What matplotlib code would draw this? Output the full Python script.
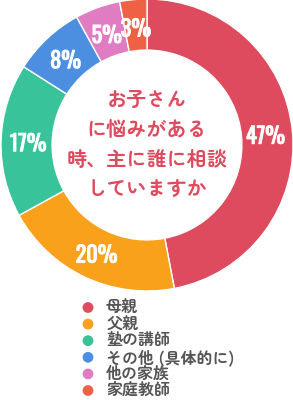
import matplotlib

matplotlib.use("Agg")
import matplotlib.pyplot as plt
import matplotlib.patheffects as pe
import numpy as np

plt.rcParams["font.family"] = ["Zen Maru Gothic", "Noto Sans CJK JP", "DejaVu Sans"]

LABELS = ["母親", "父親", "塾の講師", "その他 (具体的に)", "他の家族", "家庭教師"]
SHARES = [47, 20, 17, 8, 5, 3]
COLORS = ["#DE4B5E", "#F9A11B", "#38C39B", "#4C8FE1", "#E07CC1", "#EE6144"]
CENTER_TEXT = "お子さん\nに悩みがある\n時、主に誰に相談\nしていますか"

W, H = 293, 400
fig = plt.figure(figsize=(W / 100, H / 100), dpi=100)

# donut
cx, cy, r = 147, 145, 146
ax = fig.add_axes([(cx - r) / W, (H - cy - r) / H, 2 * r / W, 2 * r / H])
wedges, _ = ax.pie(
    SHARES,
    colors=COLORS,
    startangle=90,
    counterclock=False,
    radius=1.0,
    wedgeprops=dict(width=0.35, edgecolor="white", linewidth=1),
)
ax.set_xlim(-1, 1)
ax.set_ylim(-1, 1)
ax.set_aspect("equal")
ax.axis("off")

for w, s in zip(wedges, SHARES):
    ang = np.deg2rad((w.theta1 + w.theta2) / 2)
    rr = 0.815
    ax.text(
        rr * np.cos(ang),
        rr * np.sin(ang) - 0.02,
        f"{s}%",
        ha="center",
        va="center",
        color="white",
        fontsize=16,
        fontweight="bold",
        family=["Oswald", "Saira Condensed", "DejaVu Sans"],
        path_effects=[pe.withStroke(linewidth=0.7, foreground="white")],
    )

ax.text(
    0,
    0.0,
    CENTER_TEXT,
    ha="center",
    va="center",
    color="#DE4B5E",
    fontsize=14.5,
    fontweight="bold",
    linespacing=1.72,
)

# legend drawn on its own axes in pixel units
leg = fig.add_axes([0, 0, 1, 1])
leg.set_xlim(0, W)
leg.set_ylim(H, 0)
leg.axis("off")
rows = 307.5 + 16.6 * np.arange(len(LABELS))
leg.scatter(np.full(len(LABELS), 88), rows, s=60, c=COLORS, linewidths=0)
for y, lab in zip(rows, LABELS):
    leg.text(106, y, lab, ha="left", va="center", color="#555555", fontsize=11.5, fontweight="bold")

fig.savefig("out.png", dpi=100)
